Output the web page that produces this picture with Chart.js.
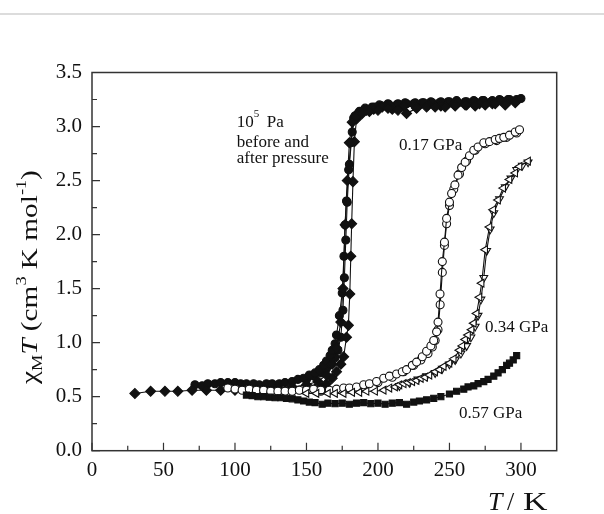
<!DOCTYPE html>
<html>
<head>
<meta charset="utf-8">
<script src="https://cdn.jsdelivr.net/npm/chart.js@4.4.0/dist/chart.umd.min.js"></script>
<style>
  html, body { margin: 0; padding: 0; background: #fff; }
  #wrap { position: relative; width: 604px; height: 514px; }
  #topline { position: absolute; left: 0; top: 13px; width: 604px; height: 2px; background: #dcdcdc; }
  canvas { position: absolute; left: 0; top: 0; }
</style>
</head>
<body>
<div id="wrap">
  <canvas id="c" width="604" height="514"></canvas>
  <div id="topline"></div>
</div>
<script>
// ---------- data (T in K, chiMT in cm3 K mol-1) ----------
const xTickLabels = [0, 50, 100, 150, 200, 250, 300];
const xMinorTicks = [25, 75, 125, 175, 225, 275];
const yTickLabels = [0.0, 0.5, 1.0, 1.5, 2.0, 2.5, 3.0, 3.5];
const yMinorTicks = [0.25, 0.75, 1.25, 1.75, 2.25, 2.75, 3.25];

// 10^5 Pa before pressure (filled circles), two branches
const bef1T = [72,77,81,86,90,95,100,104,108,113,117,122,126,131,135,140,144,148,152,156,159,162,164,166.5,168,170,171,173,175,176.2,177,178,179.5,181,183,186,190,194,198,203,208,214,220,226,232,238,244,250,256,262,268,274,280,286,292,300];
const bef1Chi = [0.61,0.60,0.62,0.62,0.63,0.63,0.63,0.62,0.62,0.62,0.61,0.62,0.62,0.62,0.63,0.64,0.66,0.67,0.70,0.72,0.75,0.79,0.83,0.88,0.93,0.99,1.07,1.25,1.46,1.80,2.09,2.31,2.60,2.85,3.08,3.12,3.15,3.16,3.18,3.19,3.20,3.21,3.21,3.22,3.22,3.22,3.23,3.23,3.22,3.23,3.23,3.24,3.24,3.24,3.25,3.26];
const bef2T = [150,155,160,164,167,170,172,174,175.5,176.5,177.5,178.5,180,182,184,187,191,196,201,207,213,219,225,231,237,243,249,255,261,267,273,279,285,291,297];
const bef2Chi = [0.66,0.69,0.72,0.76,0.80,0.86,0.93,1.05,1.30,1.60,1.95,2.30,2.65,2.95,3.10,3.14,3.17,3.18,3.20,3.21,3.20,3.22,3.21,3.22,3.23,3.22,3.23,3.24,3.23,3.24,3.24,3.23,3.25,3.25,3.25];

// 10^5 Pa after pressure (filled diamonds), two branches
const aft1T = [30,41,51,60,70,80,90,100,110,120,130,140,150,158,164,168,171,174,175.5,177,178.5,180,182,185,189,194,200,207,214,220,227,234,240,247,254,261,268,275,282,289,296];
const aft1Chi = [0.53,0.55,0.55,0.55,0.56,0.56,0.56,0.56,0.57,0.57,0.58,0.59,0.61,0.64,0.70,0.80,0.95,1.19,1.50,2.09,2.50,2.85,3.04,3.09,3.12,3.14,3.15,3.17,3.15,3.12,3.17,3.18,3.18,3.18,3.19,3.20,3.19,3.20,3.21,3.20,3.22];
const aft2T = [150,156,160,164,168,171,174,176,178,179.3,180.3,181,181.6,182.5,183.5,185,188,192,197,203,210,218,226,235,244,253,262,271,280,290];
const aft2Chi = [0.56,0.57,0.58,0.62,0.67,0.73,0.80,0.87,1.05,1.16,1.45,1.80,2.10,2.49,2.86,3.07,3.12,3.15,3.16,3.18,3.16,3.19,3.19,3.20,3.19,3.21,3.20,3.21,3.21,3.22];

// 0.17 GPa (open circles), two branches
const p17aT = [95,100,105,110,115,120,125,130,135,140,145,150,155,160,166,171,176,180,185,190,194,199,204,208,213,217,220,224,227,231,234,237,239,241,242,243.4,245,246.5,248,250,251.5,253.8,256,258.5,261,264,267,270,274,278,282,285,288,292,296,299];
const p17aChi = [0.58,0.57,0.56,0.57,0.56,0.56,0.55,0.55,0.55,0.55,0.56,0.56,0.57,0.56,0.56,0.57,0.58,0.58,0.59,0.61,0.62,0.64,0.67,0.69,0.71,0.73,0.75,0.79,0.82,0.87,0.92,0.97,1.02,1.10,1.19,1.45,1.75,1.93,2.15,2.30,2.38,2.46,2.55,2.62,2.67,2.73,2.78,2.81,2.85,2.86,2.88,2.89,2.90,2.92,2.95,2.97];
const p17bT = [160,170,180,190,200,210,218,225,230,235,238,240,242,243.5,245,246.5,248,250,253,257,262,268,275,283,290,297];
const p17bChi = [0.55,0.56,0.57,0.59,0.63,0.68,0.73,0.79,0.84,0.90,0.96,1.02,1.12,1.35,1.65,1.90,2.10,2.27,2.42,2.56,2.68,2.78,2.84,2.87,2.90,2.94];

// 0.34 GPa (open triangles, left- and down-pointing)
const p34aT = [150,157,165,170,176,182,187,192,198,204,208,212,215,218,221,224,227,230,233,236,240,243,246,250,253,257,259,261,263,265.5,267,269,271,272.5,275,278,280.6,284,287.6,292,296,299,305];
const p34aChi = [0.53,0.53,0.53,0.53,0.53,0.54,0.54,0.55,0.55,0.56,0.58,0.59,0.61,0.62,0.63,0.64,0.65,0.67,0.68,0.70,0.73,0.75,0.78,0.81,0.85,0.93,0.97,1.03,1.07,1.12,1.18,1.27,1.42,1.55,1.86,2.07,2.23,2.32,2.43,2.51,2.57,2.63,2.68];
const p34bT = [215,222,228,234,240,245,250,254,258,262,265,268,270,272,274,276,278.5,281,285,289,293,297,301,305];
const p34bChi = [0.60,0.63,0.66,0.69,0.72,0.76,0.80,0.84,0.90,0.97,1.05,1.15,1.25,1.40,1.60,1.85,2.05,2.20,2.33,2.44,2.52,2.60,2.64,2.67];

// 0.57 GPa (filled squares)
const p57T = [108,112,116,120,124,128,132,136,140,144,148,152,156,161,165,170,175,180,185,190,195,200,205,210,215,220,225,229,234,239,244,250,255,260,263,267,270,274,277,281,284,287,290,292,294.6,297];
const p57Chi = [0.515,0.51,0.50,0.50,0.495,0.49,0.49,0.485,0.48,0.47,0.46,0.45,0.445,0.43,0.44,0.435,0.44,0.43,0.44,0.445,0.435,0.44,0.43,0.44,0.445,0.43,0.45,0.46,0.47,0.485,0.50,0.525,0.55,0.57,0.59,0.60,0.62,0.64,0.66,0.69,0.72,0.75,0.79,0.81,0.84,0.88];

// annotation texts, anchored in data coordinates (T, chiMT of left baseline)
const notes = [
  { text: 'before and', T: 101.2, v: 2.81 },
  { text: 'after pressure', T: 101.2, v: 2.66 },
  { text: '0.17 GPa', T: 214.7, v: 2.78 },
  { text: '0.34 GPa', T: 274.8, v: 1.10 },
  { text: '0.57 GPa', T: 256.6, v: 0.30 }
];

// ---------- build chart ----------
const SERIF = "'Liberation Serif', 'Times New Roman', serif";
const pts = (xs, ys) => xs.map((x, i) => ({ x: x, y: ys[i] }));
function ds(xs, ys, style, fill, radius, rotation) {
  return {
    data: pts(xs, ys), showLine: true, borderColor: '#111', borderWidth: 1.1,
    pointStyle: style, pointRadius: radius, pointHoverRadius: radius,
    pointRotation: rotation || 0,
    pointBackgroundColor: fill, pointBorderColor: '#111', pointBorderWidth: 1.1
  };
}

const frame = {
  id: 'frame',
  afterDraw(chart) {
    const ctx = chart.ctx, a = chart.chartArea;
    const xs = chart.scales.x, ys = chart.scales.y;
    ctx.save();
    ctx.strokeStyle = '#333';
    ctx.lineWidth = 1.5;
    ctx.strokeRect(a.left, a.top, a.right - a.left, a.bottom - a.top);
    ctx.lineWidth = 1.2;
    ctx.beginPath();
    xTickLabels.forEach(t => { const p = xs.getPixelForValue(t); ctx.moveTo(p, a.bottom); ctx.lineTo(p, a.bottom - 8); });
    xMinorTicks.forEach(t => { const p = xs.getPixelForValue(t); ctx.moveTo(p, a.bottom); ctx.lineTo(p, a.bottom - 5); });
    yTickLabels.forEach(t => { const p = ys.getPixelForValue(t); ctx.moveTo(a.left, p); ctx.lineTo(a.left + 8, p); });
    yMinorTicks.forEach(t => { const p = ys.getPixelForValue(t); ctx.moveTo(a.left, p); ctx.lineTo(a.left + 5, p); });
    ctx.stroke();

    ctx.fillStyle = '#111';
    ctx.textBaseline = 'alphabetic';
    ctx.textAlign = 'left';
    // "10^5 Pa"
    const nx = xs.getPixelForValue(101.2), ny = ys.getPixelForValue(3.0);
    ctx.font = '17px ' + SERIF;
    ctx.fillText('10', nx, ny);
    ctx.font = '11px ' + SERIF;
    ctx.fillText('5', nx + 17, ny - 10);
    ctx.font = '17px ' + SERIF;
    ctx.fillText('Pa', nx + 30, ny);
    notes.forEach(n => {
      ctx.fillText(n.text, xs.getPixelForValue(n.T), ys.getPixelForValue(n.v));
    });

    // y title: chi_M T (cm^3 K mol^-1)
    ctx.save();
    ctx.translate(37, 384);
    ctx.rotate(-Math.PI / 2);
    ctx.scale(1.22, 1);
    const big = 24, small = 15;
    const parts = [
      { t: 'χ', f: big, dy: 0 },
      { t: 'M', f: small, dy: 5 },
      { t: 'T', f: big, dy: 0, it: true },
      { t: ' (cm', f: big, dy: 0 },
      { t: '3', f: small, dy: -11 },
      { t: ' K mol', f: big, dy: 0 },
      { t: '-1', f: small, dy: -11 },
      { t: ')', f: big, dy: 0 }
    ];
    let x = 0;
    parts.forEach(p => {
      ctx.font = (p.it ? 'italic ' : '') + p.f + 'px ' + SERIF;
      ctx.fillText(p.t, x, p.dy);
      x += ctx.measureText(p.t).width;
    });
    ctx.restore();

    // x title: T / K
    ctx.font = 'italic 26px ' + SERIF;
    ctx.fillText('T', 488, 510);
    ctx.font = '26px ' + SERIF;
    ctx.fillText('/', 507, 510);
    ctx.save();
    ctx.translate(523, 510);
    ctx.scale(1.3, 1);
    ctx.fillText('K', 0, 0);
    ctx.restore();
    ctx.restore();
  }
};

new Chart(document.getElementById('c'), {
  type: 'scatter',
  data: {
    datasets: [
      ds(p57T, p57Chi, 'rect', '#111', 4.3),
      ds(p34aT, p34aChi, 'triangle', '#fff', 4.5, -90),
      ds(p34bT, p34bChi, 'triangle', '#fff', 4.5, 180),
      ds(p17aT, p17aChi, 'circle', '#fff', 4),
      ds(p17bT, p17bChi, 'circle', '#fff', 4),
      ds(aft1T, aft1Chi, 'rectRot', '#111', 5),
      ds(aft2T, aft2Chi, 'rectRot', '#111', 5),
      ds(bef1T, bef1Chi, 'circle', '#111', 4),
      ds(bef2T, bef2Chi, 'circle', '#111', 4)
    ]
  },
  options: {
    responsive: false,
    animation: false,
    devicePixelRatio: 1,
    layout: { padding: { left: 0, right: 47.3, top: 72.5, bottom: 0 } },
    plugins: { legend: { display: false }, tooltip: { enabled: false } },
    scales: {
      x: {
        type: 'linear', min: 0, max: 325,
        grid: { display: false, drawTicks: false },
        border: { display: false },
        afterBuildTicks: s => { s.ticks = xTickLabels.map(v => ({ value: v })); },
        afterFit: s => { s.height = 514 - 450.7; },
        ticks: { padding: 7, color: '#111', font: { family: SERIF, size: 21 }, maxRotation: 0,
                 callback: v => String(v) }
      },
      y: {
        type: 'linear', min: 0, max: 3.5,
        grid: { display: false, drawTicks: false },
        border: { display: false },
        afterBuildTicks: s => { s.ticks = yTickLabels.map(v => ({ value: v })); },
        afterFit: s => { s.width = 92; },
        ticks: { padding: 10, color: '#111', font: { family: SERIF, size: 21 },
                 callback: v => Number(v).toFixed(1) }
      }
    }
  },
  plugins: [frame]
});
</script>
</body>
</html>
